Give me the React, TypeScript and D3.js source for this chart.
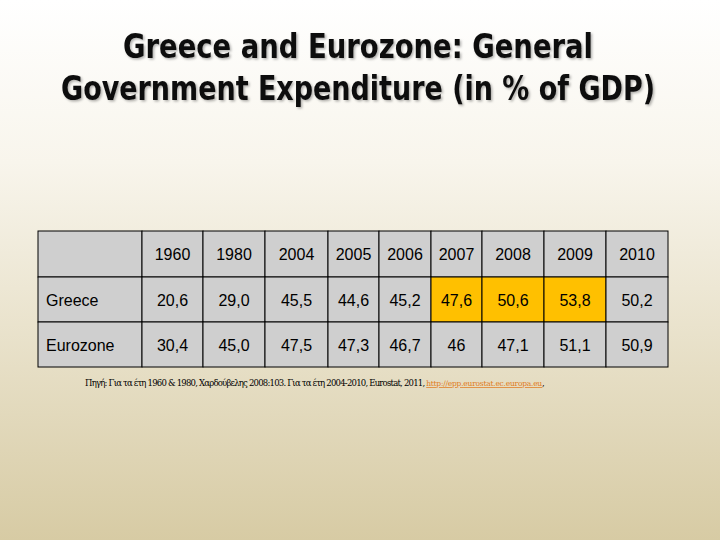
import React from "react";
import * as d3 from "d3";

const years = ["1960", "1980", "2004", "2005", "2006", "2007", "2008", "2009", "2010"];
const rowLabels = ["Greece", "Eurozone"];
const greece = ["20,6", "29,0", "45,5", "44,6", "45,2", "47,6", "50,6", "53,8", "50,2"];
const eurozone = ["30,4", "45,0", "47,5", "47,3", "46,7", "46", "47,1", "51,1", "50,9"];
const highlightedGreece = ["2007", "2008", "2009"];
const colEdges = [38, 142, 203, 265, 328, 379, 431, 482, 544, 606, 668];
const rowEdges = [231, 277, 322, 367];
const titleLines = ["Greece and Eurozone: General", "Government Expenditure (in % of GDP)"];
const footnote = "Πηγή: Για τα έτη 1960 & 1980, Χαρδούβελης 2008:103. Για τα έτη 2004-2010, Eurostat, 2011, ";
const footLink = "http://epp.eurostat.ec.europa.eu";

export default function App() {
  const cols = ["", ...years];
  const rows = [cols, [rowLabels[0], ...greece], [rowLabels[1], ...eurozone]];
  const x = d3.scaleOrdinal<number, number>().domain(d3.range(cols.length)).range(colEdges.slice(0, -1));
  const y = d3.scaleOrdinal<number, number>().domain(d3.range(rows.length)).range(rowEdges.slice(0, -1));
  const w = (i: number) => colEdges[i + 1] - colEdges[i];
  const h = (j: number) => rowEdges[j + 1] - rowEdges[j];
  return (
    <svg width={720} height={540} style={{ position: "absolute", left: 0, top: 0 }}>
      <defs>
        <linearGradient id="bg" x1="0" y1="0" x2="0" y2="1">
          <stop offset="0" stopColor="#ffffff" />
          <stop offset="0.3" stopColor="#f8f5ec" />
          <stop offset="1" stopColor="#d7cba4" />
        </linearGradient>
        <filter id="sh" filterUnits="userSpaceOnUse" x="0" y="0" width="720" height="140">
          <feDropShadow dx="1.5" dy="1.5" stdDeviation="0.8" floodColor="#000" floodOpacity="0.3" />
        </filter>
      </defs>
      <rect width={720} height={540} fill="url(#bg)" />
      <g fontFamily="'DejaVu Sans Condensed', 'DejaVu Sans', sans-serif" fontWeight="bold" fontSize={33} fill="#111" textAnchor="middle" filter="url(#sh)">
        <text x={358} y={58} textLength={470} lengthAdjust="spacingAndGlyphs">{titleLines[0]}</text>
        <text x={358} y={100} textLength={594} lengthAdjust="spacingAndGlyphs">{titleLines[1]}</text>
      </g>
      <g fontFamily="'Liberation Sans', Arial, sans-serif" fontSize={16} fill="#000">
        {rows.map((r, j) =>
          r.map((v, i) => {
            const hl = j === 1 && highlightedGreece.includes(years[i - 1]);
            return (
              <g key={`${j}-${i}`}>
                <rect x={x(i)} y={y(j)} width={w(i)} height={h(j)} fill={hl ? "#ffc000" : "#cfcfcf"} stroke="#000" strokeWidth={1} />
                <text
                  x={i === 0 ? x(i) + 8 : x(i) + w(i) / 2}
                  y={y(j) + h(j) / 2 + 6}
                  textAnchor={i === 0 ? "start" : "middle"}
                >
                  {v}
                </text>
              </g>
            );
          })
        )}
      </g>
      <text x={85} y={386} fontFamily="'DejaVu Serif', serif" fontSize={8.5} fill="#000">
        <tspan textLength={342}>{footnote}</tspan>
        <tspan fill="#e07b20" textDecoration="underline" textLength={116} fontSize={7.5}>{footLink}</tspan>
        <tspan>,</tspan>
      </text>
    </svg>
  );
}
